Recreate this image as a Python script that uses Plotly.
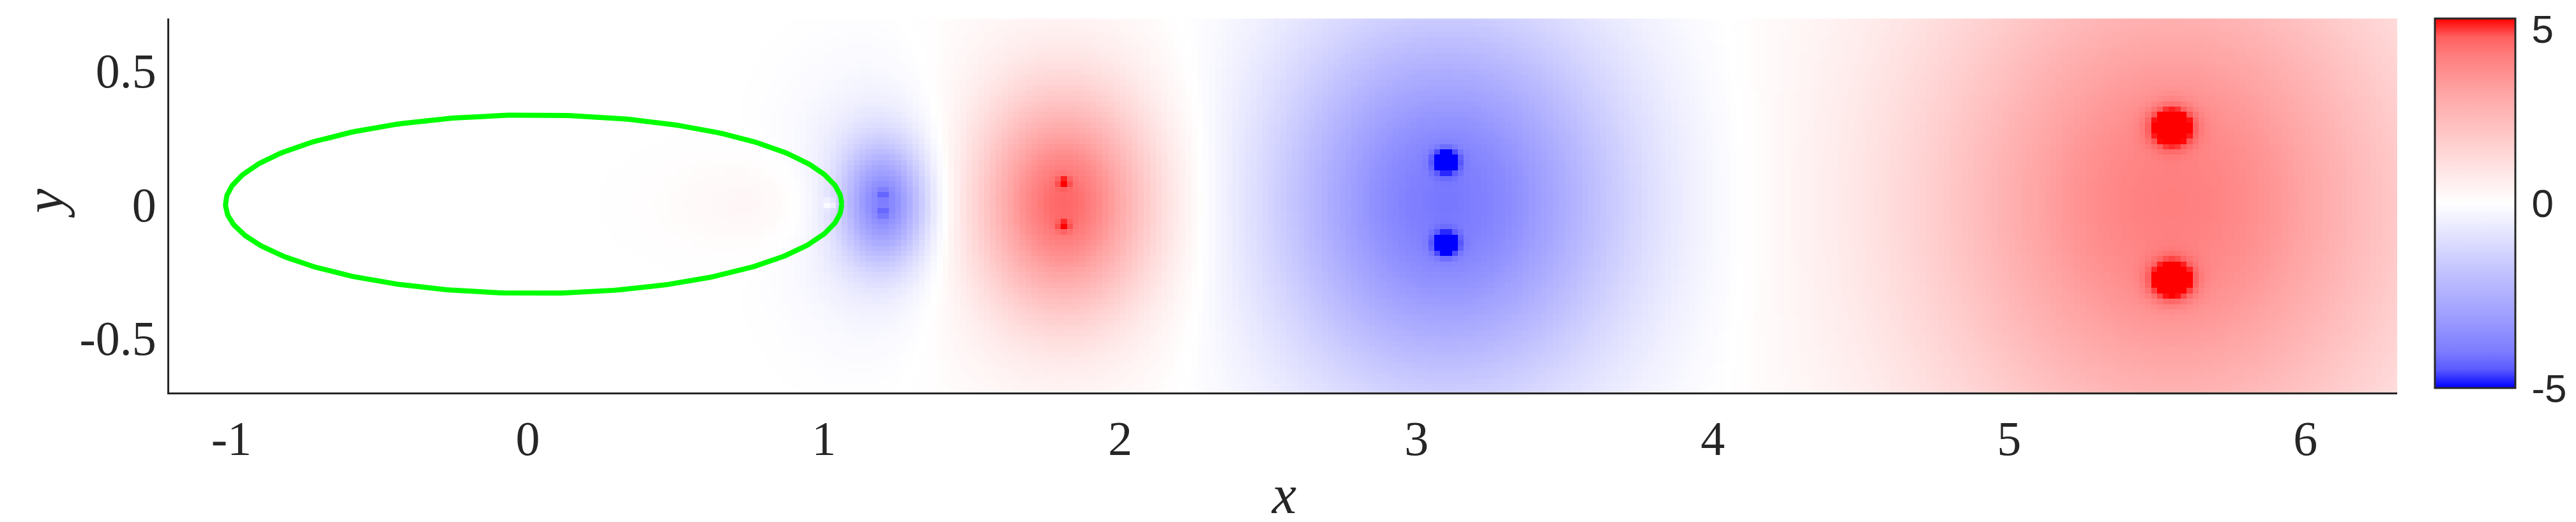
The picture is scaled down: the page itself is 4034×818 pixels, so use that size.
import numpy as np
import plotly.graph_objects as go

# vortex positions, with the strength and size of each vortex
vortex_x = [5.55, 5.55, 3.10, 3.10, 1.81, 1.81, 1.20, 1.20, 1.02]
vortex_y = [0.29, -0.285, 0.16, -0.15, 0.082, -0.082, 0.037, -0.032, 0.00]
halo_amp = [2.15, 2.15, -2.15, -2.15, 1.90, 1.90, -1.60, -1.60, 0.00]
halo_sx = [0.61, 0.61, 0.42, 0.42, 0.20, 0.20, 0.10, 0.10, 0.10]
halo_sy = [0.70, 0.70, 0.48, 0.48, 0.27, 0.27, 0.15, 0.15, 0.10]
core_amp = [3.0, 3.0, -2.6, -2.6, 1.0, 1.0, -0.8, -0.8, 1.0]
core_width = [0.05, 0.05, 0.03, 0.03, 0.015, 0.015, 0.015, 0.015, 0.012]

# faint wide glow around the small vortices near the body
glow_x = [1.81, 1.81, 1.20, 1.20, 0.85]
glow_y = [0.082, -0.082, 0.037, -0.032, 0.00]
glow_amp = [0.40, 0.40, -0.55, -0.55, 0.35]
glow_sx = [0.40, 0.40, 0.20, 0.20, 0.25]
glow_sy = [0.45, 0.45, 0.32, 0.32, 0.12]

# body outline (ellipse)
body_center = (0.02, 0.0)
body_axes = (1.04, 0.334)

x_ticks = [-1, 0, 1, 2, 3, 4, 5, 6]
y_ticks = [-0.5, 0, 0.5]
cbar_ticks = [-5, 0, 4.72]
cbar_labels = ["-5", "0", "5"]

x_range = [-1.21, 6.31]
y_range = [-0.705, 0.695]

# sample the field on a coarse grid
xs = np.arange(x_range[0], x_range[1] + 0.02, 0.02)
ys = np.arange(y_range[0], y_range[1] + 0.02, 0.02)
X, Y = np.meshgrid(xs, ys)
Z = np.zeros_like(X)
for vx, vy, a, sx, sy, b, c in zip(vortex_x, vortex_y, halo_amp, halo_sx, halo_sy, core_amp, core_width):
    dx, dy = X - vx, Y - vy
    Z += a * np.exp(-dx**2 / (2 * sx**2) - dy**2 / (2 * sy**2))
    Z += b * np.exp(-(dx**2 + dy**2) / (2 * c**2))
for gx, gy, a, sx, sy in zip(glow_x, glow_y, glow_amp, glow_sx, glow_sy):
    Z += a * np.exp(-(X - gx) ** 2 / (2 * sx**2) - (Y - gy) ** 2 / (2 * sy**2))

t = np.linspace(0, 2 * np.pi, 400)
ex = body_center[0] + body_axes[0] * np.cos(t)
ey = body_center[1] + body_axes[1] * np.sin(t)

colorscale = [
    [0.00, "rgb(0,0,255)"],
    [0.05, "rgb(90,90,255)"],
    [0.10, "rgb(125,125,255)"],
    [0.20, "rgb(160,160,255)"],
    [0.30, "rgb(190,190,255)"],
    [0.40, "rgb(222,222,255)"],
    [0.50, "rgb(255,255,255)"],
    [0.60, "rgb(255,225,225)"],
    [0.70, "rgb(255,195,195)"],
    [0.80, "rgb(255,165,165)"],
    [0.90, "rgb(255,125,125)"],
    [0.95, "rgb(255,95,95)"],
    [1.00, "rgb(255,0,0)"],
]

fig = go.Figure()
fig.add_trace(
    go.Heatmap(
        x=xs,
        y=ys,
        z=Z,
        zmin=-5,
        zmax=5,
        colorscale=colorscale,
        colorbar=dict(
            x=1.014,
            xanchor="left",
            y=1.0,
            yanchor="top",
            len=0.988,
            ypad=0,
            thickness=126,
            outlinewidth=3,
            outlinecolor="#262626",
            tickvals=cbar_ticks,
            ticktext=cbar_labels,
            ticks="outside",
            ticklen=12,
            tickcolor="rgba(0,0,0,0)",
            ticklabeloverflow="allow",
            tickfont=dict(family="Liberation Sans", size=62, color="#262626"),
        ),
    )
)
fig.add_trace(
    go.Scatter(
        x=ex,
        y=ey,
        mode="lines",
        line=dict(color="#00ff00", width=8),
        showlegend=False,
        hoverinfo="skip",
    )
)

serif = dict(family="Liberation Serif", size=76, color="#262626")
title_font = dict(family="Liberation Serif", size=86, color="#262626")
fig.update_layout(
    width=4034,
    height=818,
    margin=dict(l=257, r=288, t=21, b=211, autoexpand=False),
    paper_bgcolor="white",
    plot_bgcolor="white",
    showlegend=False,
    xaxis=dict(
        range=x_range,
        tickvals=x_ticks,
        ticktext=[str(v) for v in x_ticks],
        tickfont=serif,
        ticks="",
        ticklabelstandoff=4,
        automargin=False,
        showgrid=False,
        zeroline=False,
        showline=True,
        linecolor="#262626",
        linewidth=3,
    ),
    yaxis=dict(
        range=y_range,
        tickvals=y_ticks,
        ticktext=["-0.5", "0", "0.5"],
        tickfont=serif,
        ticks="",
        ticklabelstandoff=2,
        automargin=False,
        showgrid=False,
        zeroline=False,
        showline=True,
        linecolor="#262626",
        linewidth=3,
    ),
    annotations=[
        dict(text="<i>x</i>", xref="paper", yref="paper", x=0.5, y=-0.358,
             showarrow=False, font=title_font, xanchor="center", yanchor="bottom"),
        dict(text="<i>y</i>", xref="paper", yref="paper", x=-0.0705, y=0.505,
             showarrow=False, font=title_font, textangle=-90, xanchor="left", yanchor="middle"),
    ],
)

fig.write_html("out.html")
